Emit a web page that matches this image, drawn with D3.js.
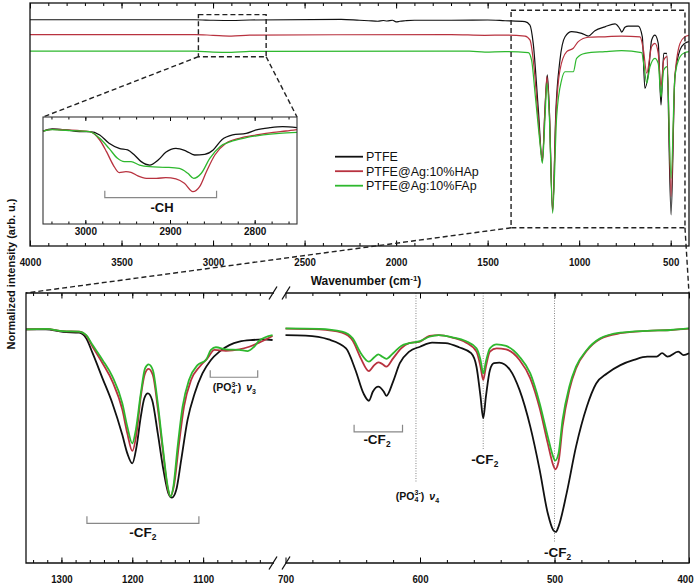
<!DOCTYPE html>
<html>
<head>
<meta charset="utf-8">
<script src="https://cdn.jsdelivr.net/npm/d3@7"></script>
<style>
  body { margin: 0; background: #fff; }
  text { font-family: "Liberation Sans", Arial, sans-serif; }
</style>
</head>
<body>
<div id="chart"></div>
<script>
// ---- data (wavenumber cm-1, normalized intensity) ----
var seriesNames = ["PTFE", "PTFE@Ag:10%HAp", "PTFE@Ag:10%FAp"];

// full range 4000-400
var topPTFE = [[4000,.931],[3100,.931],[3000,.929],[2900,.928],[2800,.930],[2300,.933],[2200,.929],[2150,.927],[2100,.925],[2070,.928],[2050,.926],[2020,.929],[2000,.922],[1980,.925],[1950,.927],[1900,.929],[1700,.929],[1500,.930],[1405,.927],[1296,.923],[1269,.909],[1251,.834],[1223,.560],[1201,.347],[1187,.560],[1174,.704],[1163,.560],[1145,.141],[1127,.560],[1105,.765],[1077,.861],[1041,.882],[986,.875],[950,.864],[914,.886],[859,.902],[804,.914],[775,.890],[768,.880],[750,.900],[732,.905],[677,.905],[655,.861],[641,.649],[622,.711],[604,.848],[586,.868],[568,.834],[553,.580],[538,.793],[522,.793],[498,.128],[477,.697],[449,.807],[423,.834],[401,.841]];
var topHAp = [[4000,.870],[3100,.870],[3000,.867],[2900,.864],[2800,.868],[1700,.870],[1515,.867],[1405,.868],[1296,.864],[1269,.848],[1245,.724],[1223,.519],[1201,.354],[1187,.560],[1176,.697],[1163,.560],[1145,.148],[1127,.532],[1105,.724],[1068,.800],[1032,.814],[1005,.841],[950,.859],[859,.861],[768,.864],[667,.861],[649,.807],[631,.711],[604,.821],[586,.834],[568,.793],[553,.656],[538,.765],[520,.779],[498,.203],[477,.697],[449,.834],[423,.861],[401,.867]];
var topFAp = [[4000,.802],[3100,.802],[3000,.798],[2900,.797],[2800,.801],[1600,.802],[1515,.798],[1405,.800],[1278,.796],[1260,.765],[1241,.628],[1214,.423],[1201,.340],[1187,.519],[1176,.670],[1163,.532],[1145,.134],[1123,.532],[1096,.683],[1077,.717],[1032,.717],[1014,.772],[968,.793],[859,.800],[768,.804],[659,.796],[645,.738],[631,.670],[613,.738],[586,.772],[568,.751],[553,.614],[538,.724],[520,.738],[498,.278],[477,.697],[449,.779],[423,.796],[401,.800]];

// inset 3050-2750 (-CH)
var insetPTFE = [[3050,.869],[3039,.888],[3023,.879],[3007,.863],[2995,.863],[2983,.832],[2972,.754],[2960,.707],[2950,.692],[2942,.645],[2934,.583],[2924,.551],[2914,.598],[2905,.670],[2893,.707],[2881,.682],[2871,.645],[2859,.651],[2849,.692],[2839,.785],[2826,.832],[2810,.847],[2798,.879],[2782,.900],[2767,.910],[2750,.900]];
var insetHAp = [[3050,.869],[3039,.885],[3023,.879],[2995,.863],[2983,.785],[2975,.676],[2967,.551],[2960,.480],[2952,.489],[2946,.483],[2938,.449],[2928,.427],[2916,.427],[2905,.433],[2893,.421],[2883,.380],[2873,.302],[2865,.349],[2857,.489],[2847,.645],[2834,.754],[2818,.801],[2798,.832],[2778,.857],[2763,.869],[2750,.882]];
var insetFAp = [[3050,.869],[3039,.882],[3023,.876],[2995,.863],[2983,.801],[2972,.707],[2962,.614],[2954,.583],[2946,.583],[2936,.551],[2924,.536],[2905,.530],[2889,.520],[2879,.474],[2872,.427],[2863,.474],[2853,.614],[2841,.723],[2826,.776],[2810,.807],[2790,.832],[2771,.847],[2750,.857]];

// zoom 1350-1000
var lowPTFE = [[1350,.865],[1322,.865],[1298,.856],[1275,.853],[1265,.832],[1256,.777],[1242,.684],[1228,.591],[1214,.474],[1207,.406],[1200,.369],[1194,.431],[1188,.542],[1183,.610],[1178,.628],[1172,.604],[1164,.480],[1156,.344],[1149,.258],[1144,.242],[1138,.270],[1131,.381],[1122,.530],[1112,.628],[1101,.702],[1089,.752],[1077,.783],[1063,.807],[1049,.820],[1030,.826],[1016,.828],[1002,.826]];
var lowHAp = [[1350,.865],[1322,.867],[1298,.859],[1275,.857],[1265,.842],[1256,.801],[1242,.740],[1228,.672],[1214,.567],[1207,.480],[1200,.415],[1194,.480],[1188,.616],[1182,.702],[1177,.719],[1171,.696],[1164,.573],[1157,.419],[1150,.277],[1146,.248],[1141,.289],[1134,.443],[1127,.579],[1117,.678],[1105,.727],[1094,.758],[1084,.789],[1068,.786],[1049,.791],[1035,.801],[1021,.816],[1002,.841]];
var lowFAp = [[1350,.865],[1322,.867],[1298,.859],[1275,.857],[1265,.844],[1256,.807],[1242,.752],[1228,.690],[1214,.591],[1207,.505],[1200,.443],[1195,.493],[1188,.628],[1182,.721],[1177,.736],[1171,.715],[1164,.591],[1157,.431],[1150,.283],[1146,.246],[1142,.283],[1136,.431],[1129,.579],[1120,.678],[1108,.733],[1096,.752],[1089,.789],[1082,.799],[1068,.791],[1049,.789],[1037,.785],[1028,.801],[1021,.823],[1002,.844]];

// zoom 700-400
var farPTFE = [[700,.844],[685,.842],[668,.828],[655,.795],[648,.715],[642,.628],[638,.601],[635,.635],[631,.653],[627,.635],[625,.619],[620,.672],[615,.740],[608,.783],[600,.801],[591,.816],[581,.814],[571,.799],[562,.777],[558,.727],[555,.616],[553,.536],[551,.616],[548,.715],[545,.740],[541,.742],[533,.715],[526,.641],[518,.505],[511,.344],[505,.184],[501,.122],[499,.115],[497,.135],[491,.258],[484,.431],[476,.579],[469,.665],[461,.702],[451,.733],[441,.752],[431,.764],[424,.764],[420,.777],[416,.764],[408,.783],[404,.770],[400,.777]];
var farHAp = [[700,.868],[675,.865],[658,.853],[650,.823],[644,.758],[638,.711],[634,.733],[631,.743],[628,.737],[625,.727],[620,.758],[614,.795],[608,.814],[600,.820],[593,.841],[586,.844],[576,.835],[566,.817],[558,.783],[555,.727],[553,.678],[551,.727],[548,.783],[543,.795],[536,.791],[526,.752],[518,.684],[511,.573],[505,.443],[501,.363],[499.5,.347],[497,.375],[494,.505],[489,.641],[484,.721],[476,.786],[466,.830],[451,.851],[431,.860],[414,.863],[400,.868]];
var farFAp = [[700,.869],[675,.867],[658,.857],[650,.832],[644,.777],[638,.746],[634,.762],[631,.773],[628,.764],[625,.756],[620,.777],[614,.804],[608,.814],[600,.822],[593,.838],[586,.844],[576,.836],[566,.822],[558,.795],[555,.752],[553,.702],[551,.746],[548,.795],[543,.810],[536,.804],[526,.764],[518,.702],[511,.591],[505,.468],[501,.394],[499.5,.379],[497,.406],[494,.530],[489,.653],[484,.727],[476,.789],[466,.832],[451,.853],[431,.860],[414,.863],[400,.869]];

// tick values
var topMajor = [4000, 3500, 3000, 2500, 2000, 1500, 1000, 500];
var topMinor = d3.range(3900, 400, -100);
var insetMajor = [3000, 2900, 2800];
var insetMinor = d3.range(3040, 2750, -20);
var lowMajor = [1300, 1200, 1100];
var lowMinor = d3.range(1340, 1000, -20);
var farMajor = [700, 600, 500, 400];
var farMinor = d3.range(680, 400, -20);

// annotations: marked peaks
var dropLines = [{wn: 603, end: 0.301}, {wn: 553, end: 0.419}, {wn: 500, end: 0.079}];

var colors = ["#111111", "#b8323f", "#2eb82e"];

var W = 698, H = 584;
var svg = d3.select("#chart").append("svg").attr("width", W).attr("height", H);

// scales
var xTop = d3.scaleLinear().domain([4000, 400]).range([30, 689]);
var yTop = d3.scaleLinear().domain([0, 1]).range([246, 3]);
var xIn = d3.scaleLinear().domain([3050, 2750]).range([43, 297]);
var yIn = d3.scaleLinear().domain([0, 1]).range([224, 117]);
var xLow = d3.scaleLinear().domain([1350, 1000]).range([26, 274]);
var xFar = d3.scaleLinear().domain([700, 400]).range([285.5, 689]);
var yBot = d3.scaleLinear().domain([0, 1]).range([563, 293]);

function squeeze(sel, k) {
  sel.each(function() {
    var w = this.getComputedTextLength();
    this.setAttribute("textLength", w * k);
    this.setAttribute("lengthAdjust", "spacingAndGlyphs");
  });
}

// ticks pointing inward, on bottom and top edge
function ticks(x, yB, yT, major, minor, big, small, fs, pad, k) {
  var gMaj = svg.append("g").attr("transform", "translate(0," + yB + ")")
    .call(d3.axisBottom(x).tickValues(major).tickSize(-big).tickPadding(pad).tickFormat(d3.format("d")));
  gMaj.selectAll("text").attr("font-size", fs).attr("font-weight", "bold").attr("fill", "#111");
  if (k) squeeze(gMaj.selectAll("text"), k);
  svg.append("g").attr("transform", "translate(0," + yB + ")")
    .call(d3.axisBottom(x).tickValues(minor).tickSize(-small).tickFormat(""));
  svg.append("g").attr("transform", "translate(0," + yT + ")")
    .call(d3.axisTop(x).tickValues(major).tickSize(-big).tickFormat(""));
  svg.append("g").attr("transform", "translate(0," + yT + ")")
    .call(d3.axisTop(x).tickValues(minor).tickSize(-small).tickFormat(""));
  svg.selectAll(".domain").remove();
  return gMaj;
}

function drawSeries(list, x, y, width) {
  var line = d3.line().x(function(d) { return x(d[0]); }).y(function(d) { return y(d[1]); })
    .curve(d3.curveMonotoneX);
  list.forEach(function(s, i) {
    svg.append("path").datum(s).attr("d", line).attr("fill", "none")
      .attr("stroke", colors[i]).attr("stroke-width", width).attr("stroke-linejoin", "round");
  });
}

// ---- top panel ----
drawSeries([topPTFE, topHAp, topFAp], xTop, yTop, 1.2);
ticks(xTop, 246, 3, topMajor, topMinor, 5.5, 3, 11, 12, 0.88);
svg.append("rect").attr("x", 30).attr("y", 3).attr("width", 659).attr("height", 243)
  .attr("fill", "none").attr("stroke", "#111").attr("stroke-width", 1.3);

// dashed zoom boxes + connectors
var dash = "5,3";
function dline(x1, y1, x2, y2) {
  svg.append("line").attr("x1", x1).attr("y1", y1).attr("x2", x2).attr("y2", y2)
    .attr("stroke", "#222").attr("stroke-width", 1.4).attr("stroke-dasharray", dash);
}
function dbox(w0, w1, i0, i1) {
  svg.append("rect").attr("x", xTop(w0)).attr("y", yTop(i0))
    .attr("width", xTop(w1) - xTop(w0)).attr("height", yTop(i1) - yTop(i0))
    .attr("fill", "none").attr("stroke", "#222").attr("stroke-width", 1.4).attr("stroke-dasharray", dash);
}
dbox(3080, 2710, 0.952, 0.779);
dline(xTop(3080), yTop(0.779), xIn(3050), yIn(1));
dline(xTop(2710), yTop(0.779), xIn(2750), yIn(1));
dbox(1372, 422, 0.970, 0.075);
dline(xTop(1372), yTop(0.075), xLow(1350), yBot(1));
dline(xTop(422), yTop(0.075), xFar(400), yBot(1));

// ---- inset ----
svg.append("rect").attr("x", 43).attr("y", 117).attr("width", 254).attr("height", 107).attr("fill", "#fff");
drawSeries([insetPTFE, insetHAp, insetFAp], xIn, yIn, 1.3);
ticks(xIn, 224, 117, insetMajor, insetMinor, 4, 2.5, 10, 4, 0);
svg.append("rect").attr("x", 43).attr("y", 117).attr("width", 254).attr("height", 107)
  .attr("fill", "none").attr("stroke", "#333").attr("stroke-width", 1.1);

function bracket(x, y, w0, w1, lvl) {
  var yy = y(lvl), a = x(w0), b = x(w1);
  svg.append("path").attr("d", "M" + a + "," + (yy - 7) + "V" + yy + "H" + b + "V" + (yy - 7))
    .attr("fill", "none").attr("stroke", "#888").attr("stroke-width", 1.2);
}
function cf(x, y, label, sub, fs) {
  var t = svg.append("text").attr("x", x).attr("y", y).attr("text-anchor", "middle")
    .attr("font-size", fs).attr("font-weight", "bold").attr("fill", "#111");
  t.append("tspan").text(label);
  if (sub) t.append("tspan").attr("font-size", fs * 0.62).attr("dy", 3).text(sub);
}
function po(x, y, n) {
  var t = svg.append("text").attr("x", x).attr("y", y).attr("text-anchor", "middle")
    .attr("font-size", 10.5).attr("font-weight", "bold").attr("fill", "#111");
  t.append("tspan").text("(PO");
  t.append("tspan").attr("font-size", 7).attr("dy", 2.5).text("4");
  t.append("tspan").attr("font-size", 7).attr("dx", -3.9).attr("dy", -7).text("3-");
  t.append("tspan").attr("dy", 4.5).text(")\u2009 ");
  t.append("tspan").attr("font-style", "italic").text("\u03bd");
  t.append("tspan").attr("font-size", 7).attr("dy", 3).text(n);
}

bracket(xIn, yIn, 2977, 2845, 0.246);
cf(162, yIn(0.246) + 14, "-CH", "", 13);

// legend
seriesNames.forEach(function(n, i) {
  var ly = 156.7 + i * 14.5;
  svg.append("line").attr("x1", 335).attr("x2", 363).attr("y1", ly).attr("y2", ly)
    .attr("stroke", colors[i]).attr("stroke-width", 1.8);
  svg.append("text").attr("x", 366).attr("y", ly).attr("dy", "0.36em")
    .attr("font-size", 12.5).attr("fill", "#111").text(n);
});

// axis titles
var xt = svg.append("text").attr("x", 366).attr("y", 285).attr("text-anchor", "middle")
  .attr("font-size", 12).attr("font-weight", "bold").attr("fill", "#111");
xt.append("tspan").text("Wavenumber (cm");
xt.append("tspan").attr("font-size", 8).attr("dy", -4.5).text("-1");
xt.append("tspan").attr("dy", 4.5).text(")");
svg.append("text").attr("transform", "translate(15,274) rotate(-90)").attr("text-anchor", "middle")
  .attr("font-size", 11).attr("font-weight", "bold").attr("fill", "#111")
  .text("Normalized intensity (arb. u.)");

// ---- bottom panel ----
dropLines.forEach(function(d) {
  svg.append("line").attr("x1", xFar(d.wn)).attr("x2", xFar(d.wn))
    .attr("y1", yBot(1)).attr("y2", yBot(d.end))
    .attr("stroke", "#777").attr("stroke-width", 0.9).attr("stroke-dasharray", "1,1.5");
});
drawSeries([lowPTFE, lowHAp, lowFAp], xLow, yBot, 1.8);
drawSeries([farPTFE, farHAp, farFAp], xFar, yBot, 1.8);
ticks(xLow, 563, 293, lowMajor, lowMinor, 5.5, 3, 11, 12, 0.88);
var farAxis = ticks(xFar, 563, 293, farMajor, farMinor, 5.5, 3, 11, 12, 0.88);
// keep the last label inside the picture
farAxis.selectAll("text").filter(function(d) { return d === 400; }).attr("dx", -4);

// frame with axis break
var fr = svg.append("g").attr("fill", "none").attr("stroke", "#111").attr("stroke-width", 1.3);
fr.append("path").attr("d", "M" + xLow(1000) + ",293H26V563H" + xLow(1000));
fr.append("path").attr("d", "M" + xFar(700) + ",293H689V563H" + xFar(700));
[293, 563].forEach(function(y) {
  [xLow(1000) - 1, xFar(700) + 0.5].forEach(function(x) {
    fr.append("line").attr("x1", x - 4).attr("y1", y + 6.5).attr("x2", x + 4).attr("y2", y - 6.5);
  });
});

bracket(xLow, yBot, 1264, 1106, 0.147);
cf(xLow(1185), yBot(0.147) + 14, "-CF", "2", 13.5);
bracket(xLow, yBot, 1090, 1023, 0.688);
po(xLow(1056), yBot(0.688) + 14, "3");
bracket(xFar, yBot, 649, 613, 0.486);
cf(xFar(632), yBot(0.486) + 12.5, "-CF", "2", 13.5);
po(xFar(603) + 1.5, 499.5, "4");
cf(xFar(553) + 1.5, yBot(0.419) + 14, "-CF", "2", 13.5);
cf(xFar(500) + 3, yBot(0.079) + 15, "-CF", "2", 13.5);
</script>
</body>
</html>
